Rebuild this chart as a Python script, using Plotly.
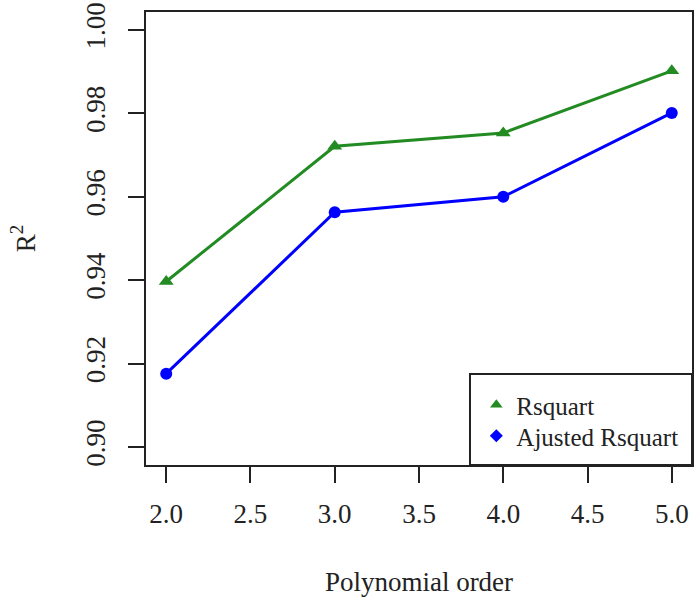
import plotly.graph_objects as go

# Polynomial order vs R^2
orders = [2.0, 3.0, 4.0, 5.0]
rsquart = [0.9397, 0.9721, 0.9753, 0.9902]
adj_rsquart = [0.9176, 0.9563, 0.9600, 0.9801]

y_ticks = [0.90, 0.92, 0.94, 0.96, 0.98, 1.00]
x_ticks = [2.0, 2.5, 3.0, 3.5, 4.0, 4.5, 5.0]

GREEN = '#228B22'
BLUE = '#0000FF'
FONT = 'Liberation Serif'
INK = '#222'

fig = go.Figure()

# data lines (legend handled separately, R-style symbols only)
fig.add_trace(go.Scatter(
    x=orders, y=rsquart, mode='lines+markers', showlegend=False,
    line=dict(color=GREEN, width=3),
    marker=dict(symbol='triangle-up', size=13, color=GREEN),
))
fig.add_trace(go.Scatter(
    x=orders, y=adj_rsquart, mode='lines+markers', showlegend=False,
    line=dict(color=BLUE, width=3),
    marker=dict(symbol='circle', size=12, color=BLUE),
))

# legend-only entries, one legend each so spacing can be set
fig.add_trace(go.Scatter(
    x=[None], y=[None], mode='markers', name='Rsquart', legend='legend',
    marker=dict(symbol='triangle-up', size=11, color=GREEN),
))
fig.add_trace(go.Scatter(
    x=[None], y=[None], mode='markers', name='Ajusted Rsquart', legend='legend2',
    marker=dict(symbol='diamond', size=10, color=BLUE),
))

axis_common = dict(
    showline=True, linecolor=INK, linewidth=2, mirror=True,
    ticks='outside', ticklen=16, tickwidth=2, tickcolor=INK,
    showgrid=False, zeroline=False, automargin=False,
    tickfont=dict(family=FONT, size=27, color=INK),
)

fig.update_xaxes(
    range=[1.88, 5.12], tickvals=x_ticks, ticktext=[f'{v:.1f}' for v in x_ticks],
    ticklabelstandoff=8,
    title=dict(text='Polynomial order', font=dict(family=FONT, size=27, color=INK), standoff=44),
    **axis_common,
)
fig.update_yaxes(
    range=[0.8957, 1.0043], tickvals=y_ticks, ticktext=[f'{v:.2f}' for v in y_ticks],
    tickangle=-90, ticklabelstandoff=12,
    title=dict(text='R<sup>2</sup>',
               font=dict(family=FONT, size=27, color=INK), standoff=38),
    **axis_common,
)

# legend frame
fig.add_shape(
    type='rect', xref='paper', yref='paper',
    x0=0.5934, x1=1.0, y0=0.0, y1=0.2009,
    line=dict(color=INK, width=2), fillcolor='white', layer='below',
)

legend_common = dict(
    xanchor='left', yanchor='middle',
    bgcolor='rgba(0,0,0,0)', borderwidth=0,
    font=dict(family=FONT, size=25, color=INK),
    itemwidth=30,
)

fig.update_layout(
    width=700, height=606,
    margin=dict(l=146, r=8, t=12, b=141),
    plot_bgcolor='white', paper_bgcolor='white',
    font=dict(family=FONT, size=25, color=INK),
    legend=dict(x=0.605, y=(465 - 405) / 453, **legend_common),
    legend2=dict(x=0.605, y=(465 - 436) / 453, **legend_common),
)

fig.write_html(
    'out.html',
    config={'displayModeBar': False},
    post_script="document.body.style.margin='0';",
)
